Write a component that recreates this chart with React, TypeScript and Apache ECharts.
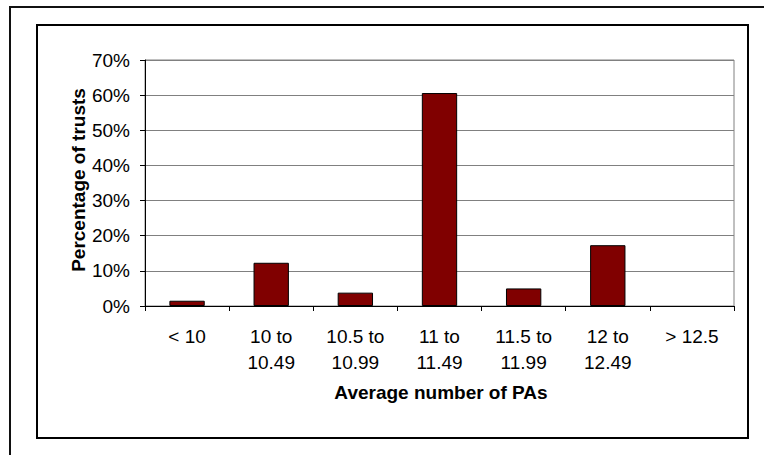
import React, { useEffect, useRef } from "react";
import * as echarts from "echarts";

const categories = ["< 10", "10 to\n10.49", "10.5 to\n10.99", "11 to\n11.49", "11.5 to\n11.99", "12 to\n12.49", "> 12.5"];
const percentages = [1.5, 12.3, 3.8, 60.6, 5.0, 17.3, 0];
const yTicks = { min: 0, max: 70, interval: 10 };
const xTitle = "Average number of PAs";
const yTitle = "Percentage of trusts";

const FONT = "'Liberation Sans', Arial, sans-serif";

export default function App() {
  const ref = useRef<HTMLDivElement>(null);
  useEffect(() => {
    document.body.style.margin = "0";
    const chart = echarts.init(ref.current!, null, { renderer: "svg" });
    chart.setOption({
      animation: false,
      backgroundColor: "#ffffff",
      textStyle: { fontFamily: FONT },
      grid: {
        left: 145,
        top: 60,
        right: 30,
        bottom: 149,
        show: true,
        borderColor: "#808080",
        borderWidth: 1,
        containLabel: false,
      },
      xAxis: {
        type: "category",
        data: categories,
        boundaryGap: true,
        axisLine: { show: true, lineStyle: { color: "#000", width: 1 } },
        axisTick: { show: true, alignWithLabel: false, length: 5, lineStyle: { color: "#000" } },
        axisLabel: {
          interval: 0,
          margin: 17,
          fontSize: 19,
          lineHeight: 26,
          color: "#000",
          fontFamily: FONT,
        },
        splitLine: { show: false },
      },
      yAxis: {
        type: "value",
        min: yTicks.min,
        max: yTicks.max,
        interval: yTicks.interval,
        axisLine: { show: true, lineStyle: { color: "#000", width: 1 } },
        axisTick: { show: true, length: 5, lineStyle: { color: "#000" } },
        axisLabel: {
          formatter: "{value}%",
          margin: 15,
          fontSize: 19,
          color: "#000",
          fontFamily: FONT,
        },
        splitLine: { show: true, lineStyle: { color: "#808080", width: 1 } },
      },
      series: [
        {
          type: "bar",
          data: percentages.map((v) =>
            v === 0 ? { value: v, itemStyle: { borderWidth: 0 } } : v
          ),
          barWidth: "42%",
          itemStyle: { color: "#800000", borderColor: "#000", borderWidth: 1 },
        },
      ],
      graphic: [
        {
          type: "rect",
          shape: { x: 10, y: 7, width: 900, height: 600 },
          style: { fill: "none", stroke: "#111", lineWidth: 2 },
          silent: true,
        },
        {
          type: "rect",
          shape: { x: 37, y: 25, width: 711, height: 413 },
          style: { fill: "none", stroke: "#000", lineWidth: 2 },
          silent: true,
        },
        {
          type: "text",
          x: 78,
          y: 180,
          rotation: Math.PI / 2,
          style: {
            text: yTitle,
            font: `bold 19px ${FONT}`,
            fill: "#000",
            align: "center",
            verticalAlign: "middle",
          },
          silent: true,
        },
        {
          type: "text",
          x: 441,
          y: 392,
          style: {
            text: xTitle,
            font: `bold 19px ${FONT}`,
            fill: "#000",
            align: "center",
            verticalAlign: "middle",
          },
          silent: true,
        },
      ],
    });
    return () => chart.dispose();
  }, []);
  return (
    <div
      ref={ref}
      style={{ position: "absolute", left: 0, top: 0, width: 764, height: 455 }}
    />
  );
}
